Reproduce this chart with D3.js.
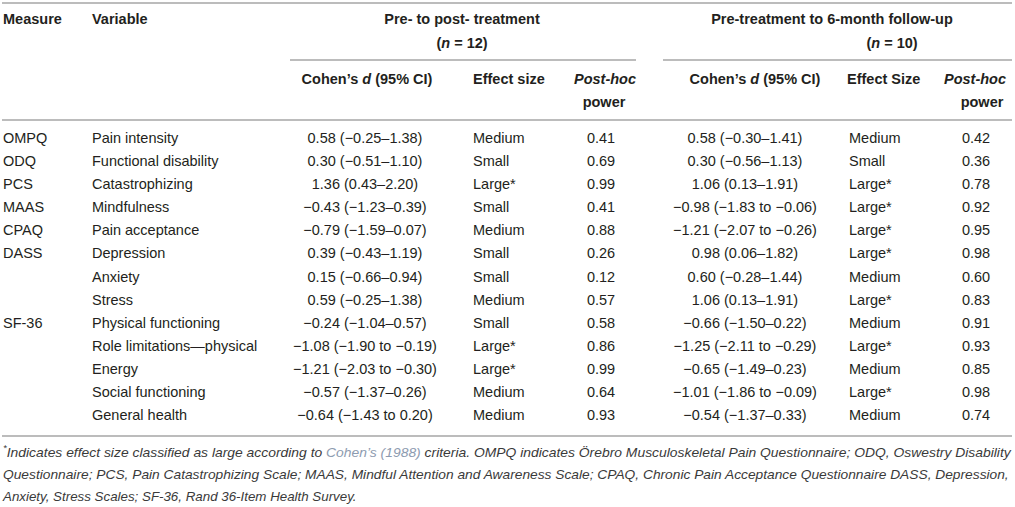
<!DOCTYPE html>
<html lang="en">
  <head>
    <meta charset="utf-8" />
    <title>Effect sizes table</title>
    <script src="https://cdnjs.cloudflare.com/ajax/libs/d3/7.8.5/d3.min.js"></script>
    <style>
      body { margin: 0; background: #fff; }
      svg { display: block; font-family: "Liberation Sans", Arial, sans-serif; }
      .head { font-weight: bold; font-size: 14.5px; fill: #231f20; }
      .cell { font-size: 14.5px; fill: #231f20; }
      .rule { stroke: #bcbcbc; stroke-width: 2; }
      .note { font-style: italic; font-size: 13px; fill: #3a3a3a; }
      .link { fill: #8d9bb0; }
    </style>
  </head>
  <body>
    <script>
      // table contents
      const measures = ["OMPQ", "ODQ", "PCS", "MAAS", "CPAQ", "DASS", "", "", "SF-36", "", "", "", ""];
      const variables = ["Pain intensity", "Functional disability", "Catastrophizing", "Mindfulness",
        "Pain acceptance", "Depression", "Anxiety", "Stress", "Physical functioning",
        "Role limitations\u2014physical", "Energy", "Social functioning", "General health"];

      const dPost = ["0.58 (−0.25–1.38)", "0.30 (−0.51–1.10)", "1.36 (0.43–2.20)", "−0.43 (−1.23–0.39)",
        "−0.79 (−1.59–0.07)", "0.39 (−0.43–1.19)", "0.15 (−0.66–0.94)", "0.59 (−0.25–1.38)",
        "−0.24 (−1.04–0.57)", "−1.08 (−1.90 to −0.19)", "−1.21 (−2.03 to −0.30)",
        "−0.57 (−1.37–0.26)", "−0.64 (−1.43 to 0.20)"];
      const effPost = ["Medium", "Small", "Large*", "Small", "Medium", "Small", "Small", "Medium",
        "Small", "Large*", "Large*", "Medium", "Medium"];
      const powPost = ["0.41", "0.69", "0.99", "0.41", "0.88", "0.26", "0.12", "0.57",
        "0.58", "0.86", "0.99", "0.64", "0.93"];

      const dFollow = ["0.58 (−0.30–1.41)", "0.30 (−0.56–1.13)", "1.06 (0.13–1.91)", "−0.98 (−1.83 to −0.06)",
        "−1.21 (−2.07 to −0.26)", "0.98 (0.06–1.82)", "0.60 (−0.28–1.44)", "1.06 (0.13–1.91)",
        "−0.66 (−1.50–0.22)", "−1.25 (−2.11 to −0.29)", "−0.65 (−1.49–0.23)",
        "−1.01 (−1.86 to −0.09)", "−0.54 (−1.37–0.33)"];
      const effFollow = ["Medium", "Small", "Large*", "Large*", "Large*", "Large*", "Medium", "Large*",
        "Medium", "Large*", "Medium", "Large*", "Medium"];
      const powFollow = ["0.42", "0.36", "0.78", "0.92", "0.95", "0.98", "0.60", "0.83",
        "0.91", "0.93", "0.85", "0.98", "0.74"];

      const groups = ["Pre- to post- treatment", "Pre-treatment to 6-month follow-up"];
      const groupN = ["12", "10"];
      const effectHeads = ["Effect size", "Effect Size"];

      const width = 1015;
      const height = 507;

      const svg = d3.select("body").append("svg")
        .attr("width", width)
        .attr("height", height)
        .attr("viewBox", [0, 0, width, height]);

      // column positions and anchors
      const colX = d3.scaleOrdinal()
        .domain(["measure", "variable", "d0", "e0", "p0", "d1", "e1", "p1"])
        .range([3, 92, 365, 473, 601, 745, 849, 976]);
      const colAnchor = {measure: "start", variable: "start", d0: "middle", e0: "start",
        p0: "middle", d1: "middle", e1: "start", p1: "middle"};

      // rows
      const y = d3.scaleLinear().domain([0, variables.length - 1]).range([138, 415]);

      const rows = variables.map((v, i) => ({
        measure: measures[i], variable: v,
        d0: dPost[i], e0: effPost[i], p0: powPost[i],
        d1: dFollow[i], e1: effFollow[i], p1: powFollow[i]
      }));

      // rules
      const rules = [
        {x1: 2, x2: 1012, y: 3},
        {x1: 290, x2: 636, y: 60},
        {x1: 663, x2: 1012, y: 60},
        {x1: 2, x2: 1012, y: 120},
        {x1: 2, x2: 1012, y: 436}
      ];
      svg.append("g").selectAll("line")
        .data(rules)
        .join("line")
        .attr("class", "rule")
        .attr("x1", d => d.x1).attr("x2", d => d.x2)
        .attr("y1", d => d.y).attr("y2", d => d.y);

      // header
      const head = svg.append("g").attr("class", "head").attr("dominant-baseline", "central");
      head.append("text").attr("x", colX("measure")).attr("y", 19).text("Measure");
      head.append("text").attr("x", colX("variable")).attr("y", 19).text("Variable");

      const groupX = [462, 832];
      const nX = [462, 892];
      groups.forEach((g, k) => {
        head.append("text").attr("x", groupX[k]).attr("y", 19)
          .attr("text-anchor", "middle").text(g);
        const t = head.append("text").attr("x", nX[k]).attr("y", 43).attr("text-anchor", "middle");
        t.append("tspan").text("(");
        t.append("tspan").attr("font-style", "italic").text("n");
        t.append("tspan").text(" = " + groupN[k] + ")");

        const c = head.append("text").attr("x", [367, 755][k]).attr("y", 79).attr("text-anchor", "middle");
        c.append("tspan").text("Cohen’s ");
        c.append("tspan").attr("font-style", "italic").text("d");
        c.append("tspan").text(" (95% CI)");

        head.append("text").attr("x", [473, 847][k]).attr("y", 79).text(effectHeads[k]);

        head.append("text").attr("x", [605, 975][k]).attr("y", 79)
          .attr("text-anchor", "middle").attr("font-style", "italic").text("Post-hoc");
        head.append("text").attr("x", [604, 982][k]).attr("y", 102)
          .attr("text-anchor", "middle").text("power");
      });

      // body cells
      const cols = colX.domain();
      svg.append("g")
        .attr("class", "cell")
        .attr("dominant-baseline", "central")
        .selectAll("g")
        .data(rows)
        .join("g")
        .attr("transform", (d, i) => `translate(0,${y(i)})`)
        .selectAll("text")
        .data(d => cols.map(c => ({c, v: d[c]})))
        .join("text")
        .attr("x", d => colX(d.c))
        .attr("text-anchor", d => colAnchor[d.c])
        .text(d => d.v);

      // footnote
      const noteLines = [
        [{t: "*", sup: true}, {t: "Indicates effect size classified as large according to "},
         {t: "Cohen’s (1988)", link: true},
         {t: " criteria. OMPQ indicates Örebro Musculoskeletal Pain Questionnaire; ODQ, Oswestry Disability"}],
        [{t: "Questionnaire; PCS, Pain Catastrophizing Scale; MAAS, Mindful Attention and Awareness Scale; CPAQ, Chronic Pain Acceptance Questionnaire DASS, Depression,"}],
        [{t: "Anxiety, Stress Scales; SF-36, Rand 36-Item Health Survey."}]
      ];
      const noteY = [452, 474, 496];
      const noteRight = [1012, 1010, 357];

      const note = svg.append("g").attr("class", "note");
      noteLines.forEach((parts, k) => {
        const g = note.append("g");
        const t = g.append("text").attr("x", 0).attr("y", 0).attr("dominant-baseline", "central");
        parts.forEach(p => {
          const s = t.append("tspan").text(p.t);
          if (p.link) s.attr("class", "link");
          if (p.sup) s.attr("font-size", "9px").attr("dy", -4);
          if (!p.sup && parts[0].sup && p === parts[1]) s.attr("dy", 4);
        });
        const w = t.node().getComputedTextLength();
        const sx = (noteRight[k] - 3) / w;
        g.attr("transform", `translate(3,${noteY[k]}) scale(${sx},1)`);
      });
    </script>
  </body>
</html>
